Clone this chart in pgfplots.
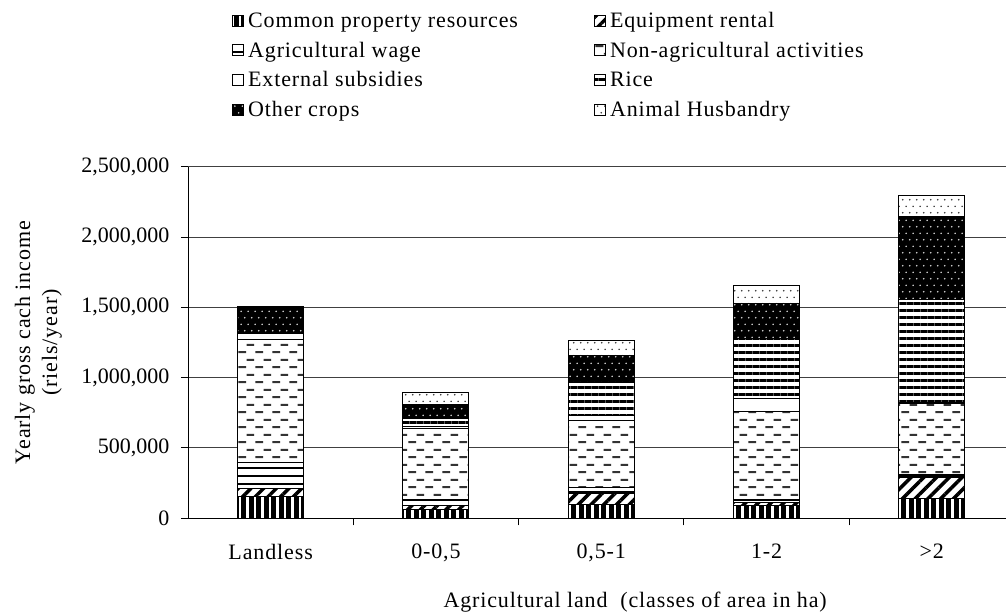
\documentclass[border=0pt]{standalone}
\usepackage{pgfplots}
\pgfplotsset{compat=1.18}
\usepackage{fontspec}
\setmainfont{Liberation Serif}
\newfontfamily\spaced{Liberation Serif}[LetterSpace=4]
\usetikzlibrary{patterns,patterns.meta}

\pgfdeclarepatternformonly{stagdots}{\pgfqpoint{0bp}{0bp}}{\pgfqpoint{7.4bp}{13.4bp}}{\pgfqpoint{7.4bp}{13.4bp}}{%
  \pgfpathcircle{\pgfqpoint{1.85bp}{3.35bp}}{0.9bp}%
  \pgfpathcircle{\pgfqpoint{5.55bp}{10.05bp}}{0.9bp}%
  \pgfusepath{fill}}
\pgfdeclarepatternformonly{stagdash}{\pgfqpoint{0bp}{0bp}}{\pgfqpoint{17bp}{15.2bp}}{\pgfqpoint{17bp}{15.2bp}}{%
  \pgfpathrectangle{\pgfqpoint{0.5bp}{3bp}}{\pgfqpoint{8bp}{2bp}}%
  \pgfpathrectangle{\pgfqpoint{9bp}{10.6bp}}{\pgfqpoint{8bp}{2bp}}%
  \pgfusepath{fill}}

\pgfplotsset{sqlegend/.style={legend image code/.code={\draw[##1] (0bp,-5.5bp) rectangle (11bp,5.5bp);}}}

\begin{document}
\begin{tikzpicture}
\useasboundingbox (0,0) rectangle (1006bp,612bp);
\begin{axis}[
  at={(188bp,93.7bp)}, anchor=south west,
  scale only axis, width=826.5bp, height=351.6bp,
  ybar stacked, bar width=66bp,
  xmin=-0.5, xmax=4.5, ymin=0, ymax=2500000,
  axis x line=bottom, axis y line=left,
  axis line style={-, line width=1bp, black},
  tick align=outside, major tick length=7bp,
  tick style={black, line width=1bp},
  xtick={0.5,1.5,2.5,3.5}, xticklabels={},
  extra x ticks={0,1,2,3,4},
  extra x tick labels={Landless,{0-0,5},{0,5-1},{1-2},{>2}},
  extra x tick style={major tick length=0pt, tick label style={yshift=-22bp, font=\fontsize{22bp}{26bp}\spaced}},
  ytick={0,500000,1000000,1500000,2000000,2500000},
  yticklabels={0,{500,000},{1,000,000},{1,500,000},{2,000,000},{2,500,000}},
  yticklabel style={xshift=-8bp},
  scaled y ticks=false,
  ymajorgrids, grid style={black!75, line width=1bp},
  tick label style={font=\fontsize{22bp}{26bp}\selectfont},
  xlabel={Agricultural land\ \ (classes of area in ha)},
  xlabel style={font=\fontsize{22bp}{26bp}\spaced, at={(axis description cs:0.541,0)}, anchor=base, yshift=-89bp},
  ylabel={Yearly gross cach income\\(riels/year)},
  ylabel style={font=\fontsize{22bp}{27bp}\spaced, align=center, at={(axis description cs:-0.181,0.5)}, anchor=center},
  legend columns=2,
  legend cell align=left,
  legend style={at={(axis description cs:0.0532,1.4457)}, anchor=north west, draw=none, fill=none, inner sep=0pt,
    font=\fontsize{22bp}{26bp}\spaced, row sep=9bp,
    /tikz/every even column/.append style={column sep=74bp},
    /tikz/every odd column/.append style={column sep=2bp}},
]
\addplot[sqlegend, draw=black, line width=1bp, fill=black, postaction={pattern={Lines[angle=90,distance=7.5bp,line width=2.3bp]}, pattern color=white}]
  coordinates {(0,154000) (1,60000) (2,98000) (3,92000) (4,142000)};
\addlegendentry{Common property resources}
\addplot[sqlegend, draw=black, line width=1bp, fill=white, postaction={pattern={Lines[angle=45,distance=9bp,line width=3.5bp]}, pattern color=black}]
  coordinates {(0,60000) (1,30000) (2,81000) (3,20000) (4,147000)};
\addlegendentry{Equipment rental}
\addplot[sqlegend, draw=black, line width=1bp, fill=white, postaction={pattern={Lines[angle=0,distance=8bp,line width=2.2bp]}, pattern color=black}]
  coordinates {(0,182000) (1,45000) (2,43000) (3,25000) (4,19000)};
\addlegendentry{Agricultural wage}
\addplot[sqlegend, draw=black, line width=1bp, fill=white, postaction={pattern=stagdash, pattern color=black!80}]
  coordinates {(0,876000) (1,500000) (2,470000) (3,622000) (4,506000)};
\addlegendentry{Non-agricultural activities}
\addplot[sqlegend, draw=black, line width=1bp, fill=white]
  coordinates {(0,45000) (1,20000) (2,40000) (3,95000) (4,10000)};
\addlegendentry{External subsidies}
\addplot[sqlegend, draw=black, line width=1bp, fill=white, postaction={pattern={Lines[angle=0,distance=7bp,line width=3bp]}, pattern color=black}]
  coordinates {(0,0) (1,55000) (2,237000) (3,427000) (4,731000)};
\addlegendentry{Rice}
\addplot[sqlegend, draw=black, line width=1bp, fill=black, postaction={pattern=stagdots, pattern color=black!15}]
  coordinates {(0,185000) (1,100000) (2,190000) (3,249000) (4,589000)};
\addlegendentry{Other crops}
\addplot[sqlegend, draw=black, line width=1bp, fill=white, postaction={pattern=stagdots, pattern color=black!80}]
  coordinates {(0,7000) (1,85000) (2,107000) (3,124000) (4,154000)};
\addlegendentry{Animal Husbandry}
\end{axis}
\end{tikzpicture}
\end{document}
